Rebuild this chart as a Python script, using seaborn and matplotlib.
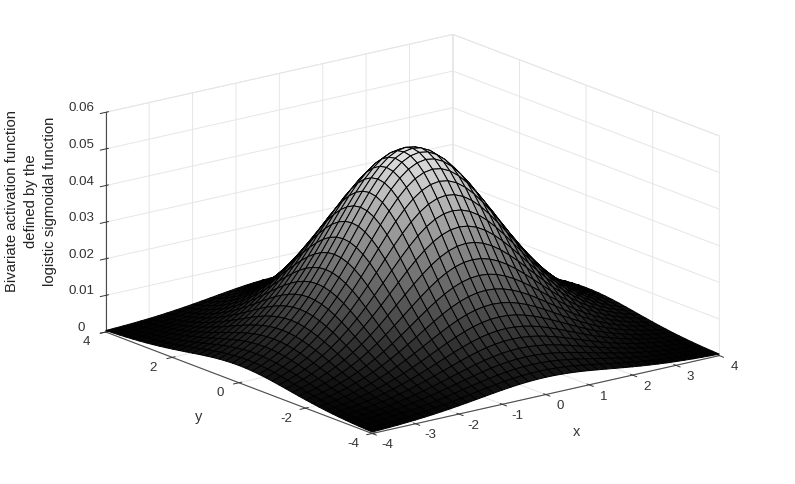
import numpy as np
import matplotlib
matplotlib.use('Agg')
import matplotlib.pyplot as plt
import seaborn as sns

# distance from the centre along x and y, quadrant only (the surface is mirrored)
grid_pos = [0.0, 0.2, 0.4, 0.6, 0.8, 1.0, 1.2, 1.4, 1.6, 1.8, 2.0,
            2.2, 2.4, 2.6, 2.8, 3.0, 3.2, 3.4, 3.6, 3.8, 4.0]

# activation height, in units of 1e-4
quadrant = [
    [533.9, 529.7, 517.4, 497.6, 471.3, 439.9, 404.8, 367.5, 329.5, 292.0, 255.9, 222.2, 191.2, 163.3, 138.6, 116.9, 98.2, 82.1, 68.4, 56.8, 47.1],
    [529.7, 525.6, 513.3, 493.7, 467.6, 436.5, 401.7, 364.7, 326.9, 289.7, 253.9, 220.5, 189.7, 162.1, 137.5, 116.0, 97.4, 81.4, 67.9, 56.4, 46.7],
    [517.4, 513.3, 501.4, 482.2, 456.8, 426.3, 392.3, 356.2, 319.3, 282.9, 248.0, 215.3, 185.3, 158.3, 134.3, 113.3, 95.1, 79.5, 66.3, 55.0, 45.6],
    [497.6, 493.7, 482.2, 463.8, 439.3, 410.0, 377.3, 342.6, 307.1, 272.1, 238.5, 207.1, 178.2, 152.2, 129.2, 109.0, 91.5, 76.5, 63.7, 52.9, 43.9],
    [471.3, 467.6, 456.8, 439.3, 416.1, 388.4, 357.4, 324.5, 290.9, 257.8, 225.9, 196.2, 168.8, 144.2, 122.4, 103.2, 86.7, 72.5, 60.4, 50.1, 41.6],
    [439.9, 436.5, 426.3, 410.0, 388.4, 362.5, 333.6, 302.9, 271.5, 240.6, 210.9, 183.1, 157.6, 134.6, 114.2, 96.4, 80.9, 67.6, 56.4, 46.8, 38.8],
    [404.8, 401.7, 392.3, 377.3, 357.4, 333.6, 307.0, 278.7, 249.9, 221.4, 194.1, 168.5, 145.0, 123.9, 105.1, 88.7, 74.4, 62.2, 51.9, 43.1, 35.7],
    [367.5, 364.7, 356.2, 342.6, 324.5, 302.9, 278.7, 253.0, 226.8, 201.0, 176.2, 153.0, 131.6, 112.4, 95.4, 80.5, 67.6, 56.5, 47.1, 39.1, 32.4],
    [329.5, 326.9, 319.3, 307.1, 290.9, 271.5, 249.9, 226.8, 203.3, 180.2, 157.9, 137.1, 118.0, 100.8, 85.5, 72.2, 60.6, 50.7, 42.2, 35.1, 29.0],
    [292.0, 289.7, 282.9, 272.1, 257.8, 240.6, 221.4, 201.0, 180.2, 159.7, 140.0, 121.5, 104.6, 89.3, 75.8, 64.0, 53.7, 44.9, 37.4, 31.1, 25.7],
    [255.9, 253.9, 248.0, 238.5, 225.9, 210.9, 194.1, 176.2, 157.9, 140.0, 122.7, 106.5, 91.7, 78.3, 66.4, 56.1, 47.1, 39.3, 32.8, 27.2, 22.6],
    [222.2, 220.5, 215.3, 207.1, 196.2, 183.1, 168.5, 153.0, 137.1, 121.5, 106.5, 92.5, 79.6, 68.0, 57.7, 48.7, 40.9, 34.2, 28.5, 23.6, 19.6],
    [191.2, 189.7, 185.3, 178.2, 168.8, 157.6, 145.0, 131.6, 118.0, 104.6, 91.7, 79.6, 68.5, 58.5, 49.6, 41.9, 35.2, 29.4, 24.5, 20.3, 16.9],
    [163.3, 162.1, 158.3, 152.2, 144.2, 134.6, 123.9, 112.4, 100.8, 89.3, 78.3, 68.0, 58.5, 50.0, 42.4, 35.8, 30.0, 25.1, 20.9, 17.4, 14.4],
    [138.6, 137.5, 134.3, 129.2, 122.4, 114.2, 105.1, 95.4, 85.5, 75.8, 66.4, 57.7, 49.6, 42.4, 36.0, 30.4, 25.5, 21.3, 17.8, 14.7, 12.2],
    [116.9, 116.0, 113.3, 109.0, 103.2, 96.4, 88.7, 80.5, 72.2, 64.0, 56.1, 48.7, 41.9, 35.8, 30.4, 25.6, 21.5, 18.0, 15.0, 12.4, 10.3],
    [98.2, 97.4, 95.1, 91.5, 86.7, 80.9, 74.4, 67.6, 60.6, 53.7, 47.1, 40.9, 35.2, 30.0, 25.5, 21.5, 18.1, 15.1, 12.6, 10.4, 8.7],
    [82.1, 81.4, 79.5, 76.5, 72.5, 67.6, 62.2, 56.5, 50.7, 44.9, 39.3, 34.2, 29.4, 25.1, 21.3, 18.0, 15.1, 12.6, 10.5, 8.7, 7.2],
    [68.4, 67.9, 66.3, 63.7, 60.4, 56.4, 51.9, 47.1, 42.2, 37.4, 32.8, 28.5, 24.5, 20.9, 17.8, 15.0, 12.6, 10.5, 8.8, 7.3, 6.0],
    [56.8, 56.4, 55.0, 52.9, 50.1, 46.8, 43.1, 39.1, 35.1, 31.1, 27.2, 23.6, 20.3, 17.4, 14.7, 12.4, 10.4, 8.7, 7.3, 6.0, 5.0],
    [47.1, 46.7, 45.6, 43.9, 41.6, 38.8, 35.7, 32.4, 29.0, 25.7, 22.6, 19.6, 16.9, 14.4, 12.2, 10.3, 8.7, 7.2, 6.0, 5.0, 4.1],
]

x_ticks = [-4, -3, -2, -1, 0, 1, 2, 3, 4]
y_ticks = [-4, -2, 0, 2, 4]
z_ticks = [0, 0.01, 0.02, 0.03, 0.04, 0.05, 0.06]
z_tick_labels = ['0', '0.01', '0.02', '0.03', '0.04', '0.05', '0.06']
z_label = 'Bivariate activation function\ndefined by the\nlogistic sigmoidal function'

sns.set_style('white')
plt.rcParams['font.family'] = ['Liberation Sans', 'DejaVu Sans']
plt.rcParams['font.size'] = 9.6
plt.rcParams['axes.unicode_minus'] = False

# mirror the quadrant into the full surface
pos = np.array(grid_pos)
axis_vals = np.concatenate([-pos[:0:-1], pos])
q = np.array(quadrant) * 1e-4
top = np.hstack([q[:, :0:-1], q])
Z = np.vstack([top[:0:-1], top])
X, Y = np.meshgrid(axis_vals, axis_vals)

fig = plt.figure(figsize=(7.95, 4.84), dpi=100)
ax = fig.add_axes([8.5 / 795, 1.5 / 484, 1, 1], projection='3d', proj_type='ortho')
ax.view_init(elev=17.0, azim=-127.5)
ax.set_box_aspect((1, 1, 0.525), zoom=1.324)

cmap = sns.color_palette('gray', as_cmap=True)
surf = ax.plot_surface(X, Y, Z, rstride=1, cstride=1, cmap=cmap, vmin=0, vmax=0.06,
                       edgecolor='black', linewidth=0.7, antialiased=True, shade=False)
# the 3d axes box is square, the surface has to draw past it
surf.set_clip_on(False)

ax.set_xlim(-4, 4, view_margin=0)
ax.set_ylim(-4, 4, view_margin=0)
ax.set_zlim(0, 0.06, view_margin=0)
ax.set_xticks(x_ticks)
ax.set_yticks(y_ticks)
ax.set_zticks(z_ticks)
ax.set_zticklabels(z_tick_labels)
ax.tick_params(colors='#333333', labelsize=9.6, pad=2)
ax.tick_params(axis='z', pad=-0.7)
for t in ax.get_xticklabels() + ax.get_yticklabels():
    t.set_va('bottom')
for t in ax.get_zticklabels():
    t.set_va('baseline')

for axis in (ax.xaxis, ax.yaxis, ax.zaxis):
    axis.set_pane_color((1, 1, 1, 1))
    axis.pane.set_edgecolor('#e3e3e3')
    axis.pane.set_linewidth(0.6)
    axis.line.set_color('#4d4d4d')
    axis.line.set_linewidth(0.8)
    axis._axinfo['grid']['color'] = '#e6e6e6'
    axis._axinfo['grid']['linewidth'] = 0.7
    axis._axinfo['tick']['color'] = '#4d4d4d'
    axis._axinfo['tick']['linewidth'] = {True: 0.7, False: 0.7}

ax.set_xlabel('x', color='#333333', fontsize=10.5, labelpad=0)
ax.set_ylabel('y', color='#333333', fontsize=10.5, labelpad=0)
fig.text(31 / 795, 1 - 201 / 484, z_label, rotation=90, ha='center', va='center',
         color='#222222', fontsize=10.7, linespacing=1.42)

fig.savefig('out.png', dpi=100)
